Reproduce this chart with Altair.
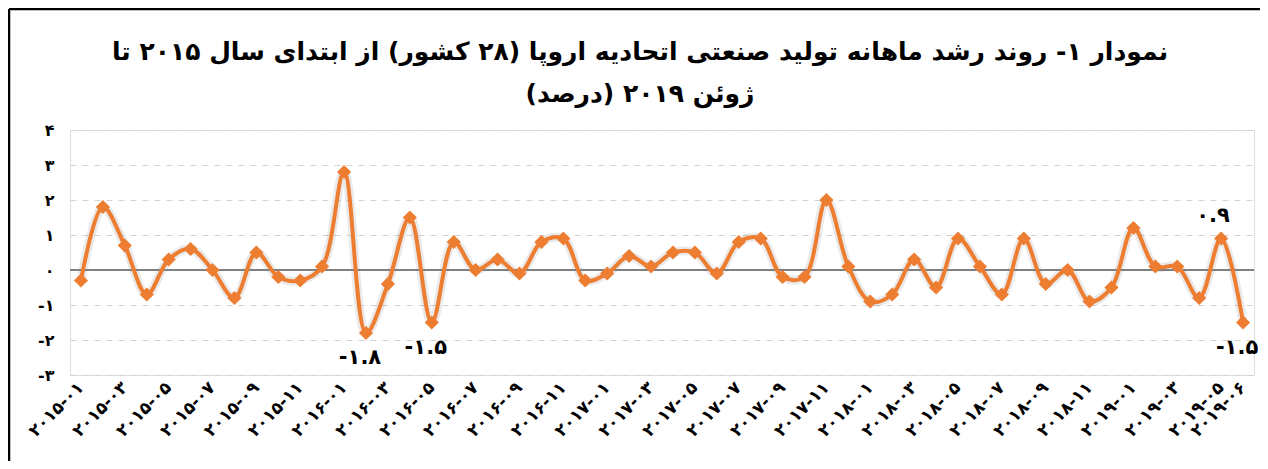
import altair as alt
import pandas as pd

FA = str.maketrans("0123456789", "۰۱۲۳۴۵۶۷۸۹")

years = [2015, 2016, 2017, 2018, 2019]
months = [f"{y}-{m:02d}" for y in years for m in range(1, 13)][:54]
month_labels = [m.translate(FA) for m in months]

growth = [-0.3, 1.8, 0.7, -0.7, 0.3, 0.6, 0.0, -0.8, 0.5, -0.2, -0.3, 0.1,
          2.8, -1.8, -0.4, 1.5, -1.5, 0.8, 0.0, 0.3, -0.1, 0.8, 0.9, -0.3,
          -0.1, 0.4, 0.1, 0.5, 0.5, -0.1, 0.8, 0.9, -0.2, -0.2, 2.0, 0.1,
          -0.9, -0.7, 0.3, -0.5, 0.9, 0.1, -0.7, 0.9, -0.4, 0.0, -0.9, -0.5,
          1.2, 0.1, 0.1, -0.8, 0.9, -1.5]

shown_ticks = [month_labels[i] for i in range(0, 54, 2)] + [month_labels[-1]]

y_ticks = [-3, -2, -1, 0, 1, 2, 3, 4]
y_tick_labels = ["-۳", "-۲", "-۱", "۰", "۱", "۲", "۳", "۴"]

below_idx = [13, 16, 53]
above_idx = [52]
below_text = ["-۱.۸", "-۱.۵", "-۱.۵"]
above_text = ["۰.۹"]

title_line1 = "\u200fنمودار ۱- روند رشد ماهانه تولید صنعتی اتحادیه اروپا (۲۸ کشور) از ابتدای سال ۲۰۱۵ تا\u200f"
title_line2 = "\u200fژوئن ۲۰۱۹ (درصد)\u200f"

df = pd.DataFrame({"month": month_labels, "growth": growth})
df_below = pd.DataFrame({"month": [month_labels[i] for i in below_idx],
                         "growth": [growth[i] for i in below_idx],
                         "txt": below_text})
df_above = pd.DataFrame({"month": [month_labels[i] for i in above_idx],
                         "growth": [growth[i] for i in above_idx],
                         "txt": above_text})

W, H = 1184, 245
PL, PT, PR, PB = 62, 122, 6, 86

arr = "[" + ",".join(f"'{s}'" for s in y_tick_labels) + "]"
yexpr = f"{arr}[round(datum.value) - ({y_ticks[0]})]"

FONT = "DejaVu Sans"

x_enc = alt.X("month:N", sort=None,
              scale=alt.Scale(domain=month_labels, padding=0.5),
              axis=alt.Axis(values=shown_ticks, title=None, labelAngle=-45,
                            labelFont=FONT, labelFontSize=17, labelFontWeight="bold",
                            labelColor="black", ticks=False, domain=False,
                            labelPadding=4, labelOffset=-6, labelOverlap=False, grid=False))
y_enc = alt.Y("growth:Q",
              scale=alt.Scale(domain=[y_ticks[0], y_ticks[-1]], nice=False, zero=False),
              axis=alt.Axis(values=y_ticks, tickCount=8, title=None, labelExpr=yexpr,
                            labelFont=FONT, labelFontSize=16, labelFontWeight="bold",
                            labelColor="black", ticks=False, domain=False,
                            labelOverlap=False, labelBound=False, labelFlush=False,
                            labelPadding=16, grid=True, gridColor="#d4d2cc",
                            gridDash=[6, 6], gridWidth=1.2))

base = alt.Chart(df)

shadow = base.mark_line(interpolate="catmull-rom", color="#555555", strokeWidth=9, opacity=0.12).encode(x=x_enc, y=y_enc)
line = base.mark_line(interpolate="catmull-rom", color="#ED7D31", strokeWidth=4).encode(x="month:N", y="growth:Q")
pts = base.mark_point(shape="diamond", filled=True, size=200, color="#ED7D31", opacity=1).encode(x="month:N", y="growth:Q")

zero = base.mark_rule(color="#808080", strokeWidth=1.5).encode(y=alt.datum(0))

lab_below = alt.Chart(df_below).mark_text(font=FONT, fontSize=21, fontWeight="bold", color="black",
                                          dy=25, dx=-6).encode(x="month:N", y="growth:Q", text="txt:N")
lab_above = alt.Chart(df_above).mark_text(font=FONT, fontSize=21, fontWeight="bold", color="black",
                                          dy=-23, dx=-8).encode(x="month:N", y="growth:Q", text="txt:N")

one = pd.DataFrame({"k": [0]})
left_border = alt.Chart(one).mark_rule(color="black", strokeWidth=2.5).encode(
    x=alt.value(-PL + 1), y=alt.value(-PT + 1), y2=alt.value(H + PB))
top_border = alt.Chart(one).mark_rule(color="black", strokeWidth=2.5).encode(
    x=alt.value(-PL + 1), x2=alt.value(W + PR), y=alt.value(-PT + 1))

title_style = dict(font=FONT, fontSize=25, fontWeight="bold", color="black", align="center", baseline="alphabetic")
t1 = alt.Chart(one).mark_text(**title_style).encode(
    x=alt.value(W / 2 - 22), y=alt.value(-70), text=alt.value(title_line1))
t2 = alt.Chart(one).mark_text(**title_style).encode(
    x=alt.value(W / 2 - 22), y=alt.value(-28), text=alt.value(title_line2))

chart = alt.layer(shadow, zero, line, pts, lab_below, lab_above, left_border, top_border, t1, t2).properties(
    width=W, height=H,
    padding={"left": PL, "top": PT, "right": PR, "bottom": PB},
    autosize=alt.AutoSizeParams(type="none"),
).configure_view(fill="#DCE6F2", stroke=None).configure(background="white").configure_axisY(labelOverlap=False)

chart.save("out.html", embed_options={"renderer": "svg", "actions": False})
